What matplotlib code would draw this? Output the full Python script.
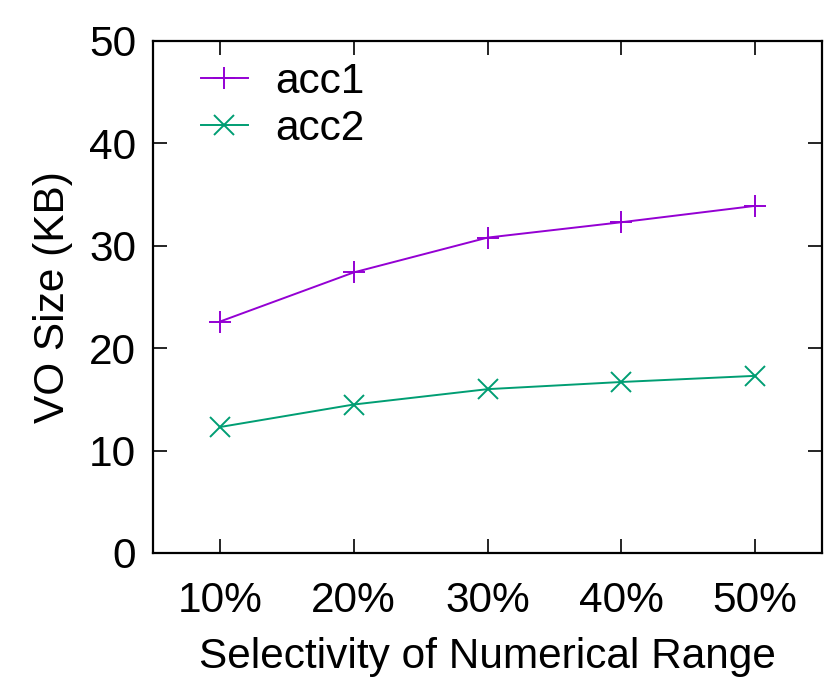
import matplotlib
matplotlib.use("Agg")
import matplotlib.pyplot as plt

# data
selectivity = ["10%", "20%", "30%", "40%", "50%"]
acc1 = [22.6, 27.4, 30.8, 32.3, 33.9]
acc2 = [12.3, 14.5, 16.0, 16.7, 17.3]

plt.rcParams["font.family"] = ["Liberation Sans", "DejaVu Sans"]
plt.rcParams["font.size"] = 30.5

fig = plt.figure(figsize=(8.3, 6.9), dpi=100)
ax = fig.add_axes([153 / 830, 1 - 553 / 690, (822 - 153) / 830, (553 - 41) / 690])

x = list(range(len(selectivity)))
ax.plot(x, acc1, color="#9400D3", marker="+", markersize=16, markeredgewidth=1.4,
        linewidth=1.4, label="acc1")
ax.plot(x, acc2, color="#009E73", marker="x", markersize=14, markeredgewidth=1.4,
        linewidth=1.4, label="acc2")

ax.set_xlim(-0.5, 4.5)
ax.set_ylim(0, 50)
ax.set_xticks(x)
ax.set_xticklabels(selectivity)
ax.set_yticks([0, 10, 20, 30, 40, 50])

ax.tick_params(direction="in", top=True, right=True, length=10, width=1.2)
ax.tick_params(axis="x", pad=20)
ax.tick_params(axis="y", pad=12)
for s in ax.spines.values():
    s.set_linewidth(1.6)

ax.set_xlabel("Selectivity of Numerical Range", labelpad=12)
ax.set_ylabel("VO Size (KB)", labelpad=12)

ax.legend(loc="upper left", frameon=False, handlelength=1.1, handletextpad=0.65,
          borderaxespad=0.1, labelspacing=0.15, bbox_to_anchor=(0.04, 1.0))

fig.savefig("out.png", dpi=100)
